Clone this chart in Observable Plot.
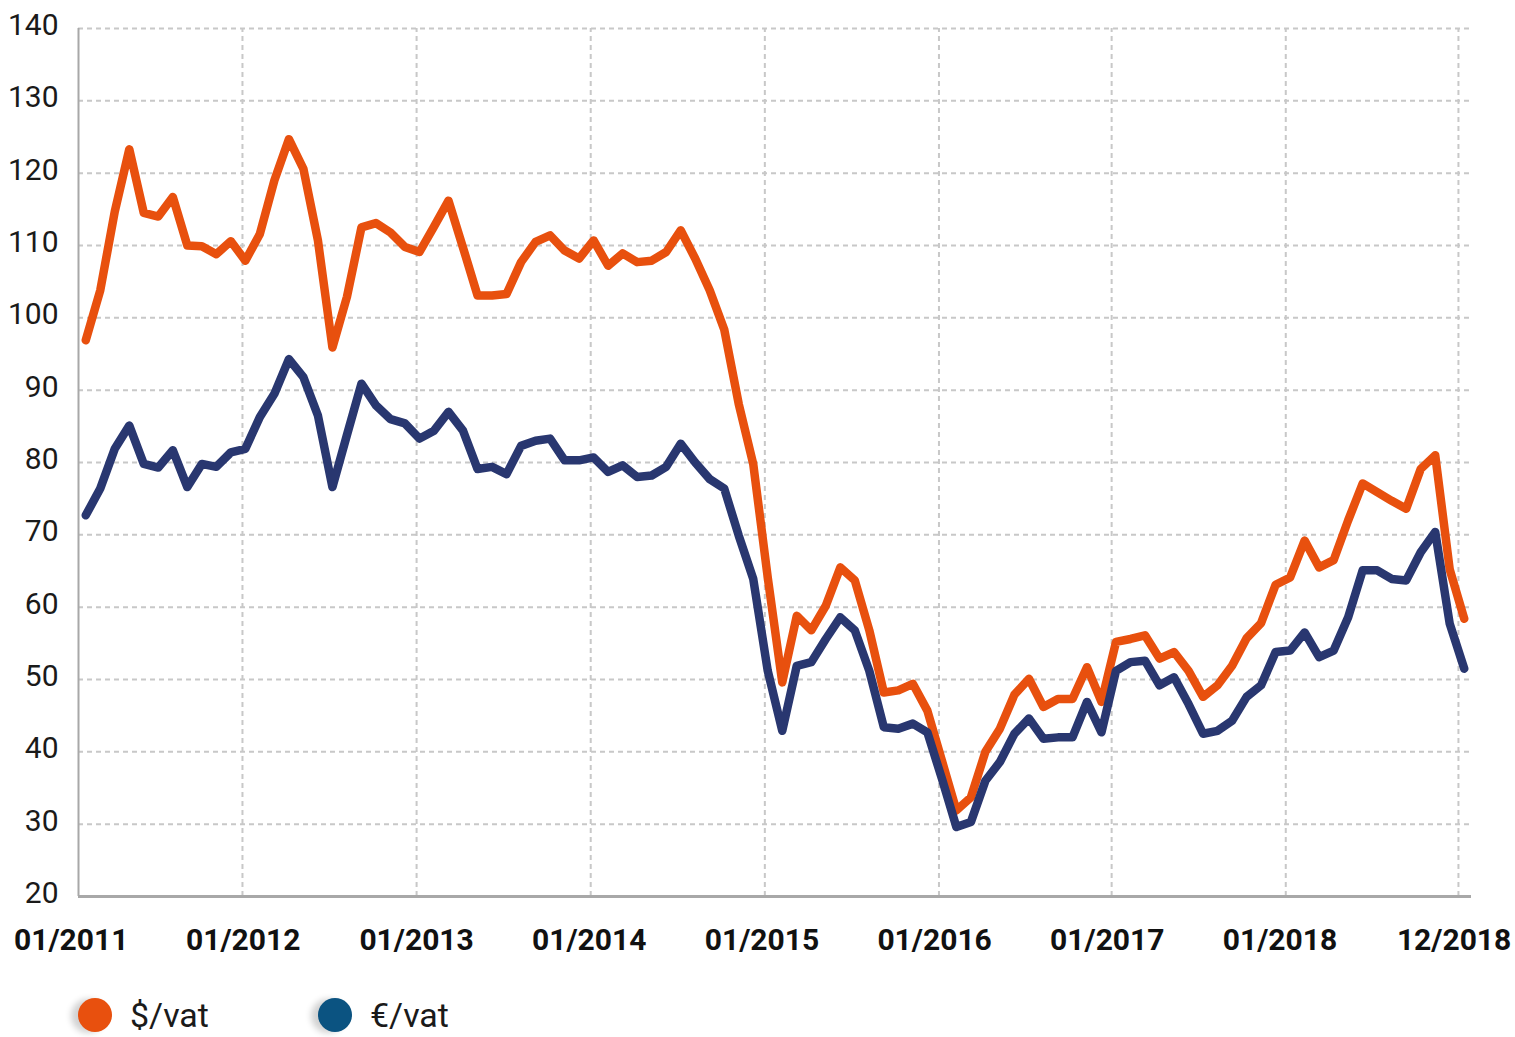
<!DOCTYPE html>
<html>
<head>
<meta charset="utf-8">
<script src="https://cdn.jsdelivr.net/npm/d3@7"></script>
<script src="https://cdn.jsdelivr.net/npm/@observablehq/plot@0.6"></script>
<style>
  html, body { margin: 0; padding: 0; background: #fff; }
  #chart svg { display: block; }
  .legend { position: relative; height: 50px; font-family: Roboto, "Noto Sans", sans-serif; font-size: 34px; line-height: 1; color: #1a1a1a; }
  .legend .item { position: absolute; top: 0; height: 50px; display: flex; align-items: center; }
  .legend .dot { width: 34px; height: 34px; border-radius: 50%; margin-right: 18px; box-shadow: -7px 1px 6px rgba(0,0,0,0.18); }
</style>
</head>
<body>
<div id="chart"></div>
<div class="legend">
  <div class="item" style="left:78px"><span class="dot" style="background:#E8500E"></span><span>$/vat</span></div>
  <div class="item" style="left:318px"><span class="dot" style="background:#0B5381"></span><span>€/vat</span></div>
</div>
<script>
// Monthly price per barrel (vat), 01/2011 .. 12/2018
const usdPerVat = [
  96.9, 103.8, 114.7, 123.3, 114.5, 114.0, 116.7, 110.0, 109.9, 108.8, 110.6, 107.9,
  111.6, 119.0, 124.7, 120.6, 110.7, 95.9, 102.9, 112.5, 113.1, 111.8, 109.8, 109.1,
  112.6, 116.2, 109.7, 103.1, 103.1, 103.3, 107.7, 110.5, 111.4, 109.3, 108.2, 110.7,
  107.2, 108.9, 107.7, 107.9, 109.1, 112.1, 108.2, 103.8, 98.4, 88.1, 79.8, 64.1,
  49.6, 58.8, 56.8, 60.2, 65.5, 63.7, 56.8, 48.2, 48.5, 49.4, 45.7, 38.8,
  31.9, 33.7, 40.0, 43.2, 47.9, 50.1, 46.2, 47.3, 47.3, 51.7, 46.9, 55.2,
  55.6, 56.1, 52.9, 53.8, 51.2, 47.6, 49.2, 51.9, 55.7, 57.8, 63.1, 64.1,
  69.2, 65.5, 66.5, 72.0, 77.1, 75.9, 74.7, 73.6, 79.1, 81.0, 65.2, 58.4
];
const eurPerVat = [
  72.7, 76.4, 81.9, 85.1, 79.8, 79.3, 81.7, 76.6, 79.8, 79.4, 81.4, 81.9,
  86.3, 89.5, 94.3, 91.8, 86.5, 76.6, 83.8, 90.9, 87.9, 86.0, 85.4, 83.3,
  84.4, 87.0, 84.4, 79.1, 79.4, 78.4, 82.3, 83.0, 83.3, 80.3, 80.3, 80.7,
  78.7, 79.6, 78.0, 78.2, 79.4, 82.6, 80.0, 77.7, 76.4, 69.9, 63.9, 51.2,
  42.9, 51.9, 52.4, 55.6, 58.6, 56.8, 51.2, 43.4, 43.2, 43.9, 42.7, 36.3,
  29.6, 30.3, 36.0, 38.6, 42.5, 44.6, 41.8, 42.0, 42.0, 46.9, 42.7, 51.2,
  52.4, 52.6, 49.2, 50.3, 46.6, 42.5, 42.9, 44.3, 47.6, 49.2, 53.8, 54.0,
  56.5, 53.1, 54.0, 58.6, 65.1, 65.1, 63.9, 63.7, 67.6, 70.4, 57.7, 51.5
];
const seriesNames = ["$/vat", "€/vat"];
const seriesColors = ["#E8500E", "#293770"];
const yTicks = [20, 30, 40, 50, 60, 70, 80, 90, 100, 110, 120, 130, 140];
const xTickLabels = ["01/2011", "01/2012", "01/2013", "01/2014", "01/2015", "01/2016", "01/2017", "01/2018", "12/2018"];
// positions of labels and vertical gridlines in month-index units
const xLabelPos = [-1.0, 10.85, 22.8, 34.7, 46.6, 58.5, 70.4, 82.3, 94.3];
const xGridPos = [10.8, 22.8, 34.8, 46.8, 58.8, 70.7, 82.7, 94.6];

const rows = [];
usdPerVat.forEach((v, i) => rows.push({i, value: v, series: seriesNames[0]}));
eurPerVat.forEach((v, i) => rows.push({i, value: v, series: seriesNames[1]}));
const labelRows = xTickLabels.map((t, k) => ({label: t, pos: xLabelPos[k]}));

const W = 1515, H = 990;
const chart = Plot.plot({
  width: W,
  height: H,
  marginLeft: 78,
  marginRight: 44,
  marginTop: 28,
  marginBottom: 94,
  style: {fontFamily: "Roboto, 'Noto Sans', sans-serif", color: "#1a1a1a", background: "#fff"},
  x: {domain: [-0.5, 95.5], axis: null},
  y: {domain: [20, 140], axis: null},
  color: {domain: seriesNames, range: seriesColors},
  marks: [
    Plot.ruleY(yTicks.filter(d => d > 20), {stroke: "#c8c8c8", strokeWidth: 2, strokeDasharray: "5,4"}),
    Plot.ruleX(xGridPos, {y1: 20, y2: 140, stroke: "#c8c8c8", strokeWidth: 2, strokeDasharray: "5,4"}),
    Plot.ruleX([-0.5], {y1: 20, y2: 140, stroke: "#a8a8a8", strokeWidth: 2}),
    Plot.ruleY([20], {stroke: "#a8a8a8", strokeWidth: 3}),
    Plot.line(rows, {x: "i", y: "value", z: "series", stroke: "series", strokeWidth: 8.5, strokeLinejoin: "round", strokeLinecap: "round"}),
    Plot.text(yTicks, {x: -0.5, y: d => d, text: d => String(d), textAnchor: "end", dx: -20, dy: -3, fontSize: 30, fill: "#1a1a1a"}),
    Plot.text(labelRows, {x: "pos", y: 20, text: "label", dy: 44, fontSize: 30, fontWeight: "bold", fill: "#111", textAnchor: "middle"})
  ]
});
document.getElementById("chart").appendChild(chart);
</script>
</body>
</html>
